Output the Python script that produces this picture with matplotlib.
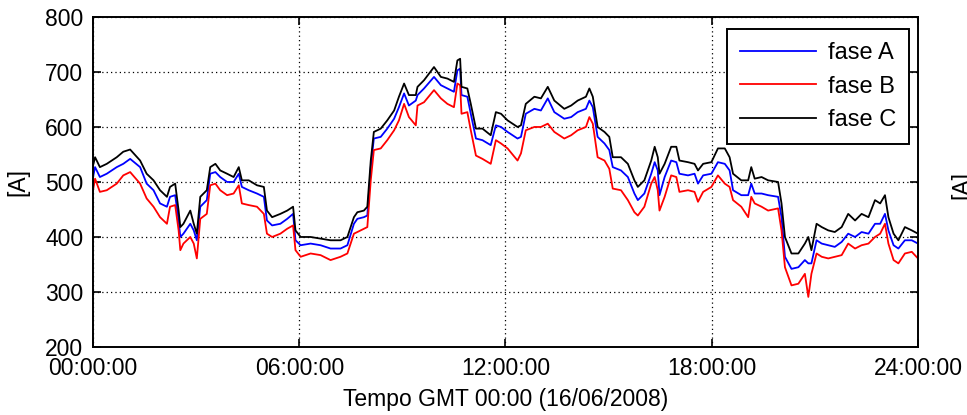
import numpy as np
import matplotlib
matplotlib.use('Agg')
import matplotlib.pyplot as plt

plt.rcParams['font.family'] = ['Liberation Sans', 'DejaVu Sans']

# hours since 00:00 GMT, 16/06/2008
hours = [0.0, 0.06, 0.2, 0.4, 0.69, 0.88, 1.08, 1.37, 1.56, 1.76, 1.95, 2.15, 2.24, 2.39,
         2.49, 2.54, 2.63, 2.83, 2.93, 3.02, 3.12, 3.31, 3.41, 3.56, 3.7, 3.9, 4.09, 4.24,
         4.33, 4.53, 4.77, 4.97, 5.06, 5.21, 5.45, 5.65, 5.82, 5.89, 6.04, 6.33, 6.62, 6.91,
         7.2, 7.4, 7.59, 7.69, 7.88, 7.98, 8.08, 8.17, 8.37, 8.56, 8.76, 8.9, 9.05, 9.19,
         9.39, 9.44, 9.63, 9.92, 10.12, 10.31, 10.5, 10.6, 10.68, 10.72, 10.89, 10.99, 11.14,
         11.33, 11.57, 11.72, 11.87, 12.06, 12.35, 12.45, 12.59, 12.84, 13.03, 13.23, 13.42,
         13.71, 13.91, 14.1, 14.34, 14.44, 14.54, 14.68, 14.88, 15.02, 15.12, 15.36, 15.56,
         15.75, 15.85, 16.04, 16.24, 16.34, 16.43, 16.48, 16.63, 16.82, 16.97, 17.06, 17.31,
         17.5, 17.6, 17.75, 17.99, 18.18, 18.38, 18.52, 18.62, 18.86, 19.06, 19.15, 19.25,
         19.45, 19.64, 19.93, 20.03, 20.13, 20.32, 20.52, 20.71, 20.81, 20.9, 21.05, 21.2,
         21.39, 21.58, 21.78, 21.97, 22.17, 22.36, 22.56, 22.75, 22.9, 23.04, 23.14, 23.29,
         23.43, 23.62, 23.82, 24.0]

# corrente por fase [A]
fase_A = [509, 527, 509, 515, 527, 533, 542, 527, 497, 485, 461, 455, 473, 476,
          430, 400, 406, 424, 412, 394, 455, 467, 515, 518, 509, 500, 500, 515,
          491, 485, 479, 473, 430, 421, 424, 433, 442, 394, 385, 388, 385, 379,
          379, 385, 424, 433, 436, 439, 527, 579, 582, 597, 615, 636, 661, 639,
          648, 658, 670, 691, 676, 670, 664, 703, 706, 658, 655, 624, 579,
          576, 567, 603, 600, 591, 579, 582, 624, 633, 630, 652, 627,
          615, 618, 627, 633, 648, 636, 582, 570, 558, 527, 521, 509,
          479, 467, 479, 515, 536, 521, 476, 509, 539, 536, 515, 512,
          515, 497, 512, 515, 536, 533, 521, 485, 476, 476, 497, 479,
          479, 476, 473, 436, 364, 342, 345, 358, 352, 352, 394, 388,
          385, 382, 391, 406, 400, 409, 406, 424, 424, 442, 412, 385,
          379, 394, 394, 388]

fase_B = [485, 506, 482, 485, 497, 512, 518, 497, 470, 455, 436, 424, 455, 458,
          412, 376, 388, 400, 388, 361, 433, 442, 494, 497, 485, 476, 479, 494,
          461, 458, 455, 442, 406, 400, 406, 415, 421, 376, 364, 370, 367, 358,
          364, 370, 406, 409, 415, 418, 503, 558, 561, 576, 594, 612, 642, 618,
          603, 639, 645, 667, 652, 642, 636, 679, 676, 624, 627, 594, 548,
          542, 533, 576, 570, 561, 539, 552, 594, 600, 600, 606, 591,
          579, 585, 594, 600, 618, 606, 545, 539, 524, 488, 485, 467,
          445, 439, 455, 497, 509, 485, 448, 473, 512, 509, 482, 485,
          482, 464, 482, 491, 512, 497, 491, 467, 455, 436, 473, 461,
          455, 448, 452, 412, 345, 312, 315, 333, 291, 333, 370, 364,
          361, 364, 367, 388, 379, 385, 388, 400, 406, 424, 388, 358,
          352, 370, 373, 361]

fase_C = [530, 545, 527, 533, 545, 555, 559, 539, 515, 503, 485, 473, 491, 497,
          448, 418, 424, 448, 424, 406, 473, 485, 527, 533, 521, 515, 509, 527,
          503, 503, 494, 491, 448, 436, 442, 448, 455, 412, 400, 400, 397, 394,
          394, 400, 436, 445, 448, 455, 539, 591, 597, 612, 630, 655, 679, 658,
          658, 673, 685, 709, 691, 688, 682, 721, 724, 673, 670, 642, 597,
          597, 585, 627, 624, 612, 600, 603, 642, 655, 652, 673, 648,
          633, 639, 648, 655, 670, 655, 600, 591, 582, 545, 545, 533,
          503, 491, 503, 539, 564, 545, 515, 533, 564, 564, 539, 536,
          533, 521, 533, 536, 561, 561, 545, 515, 503, 503, 527, 506,
          509, 503, 500, 461, 400, 370, 370, 388, 400, 376, 424, 418,
          412, 409, 418, 442, 430, 442, 436, 467, 461, 476, 436, 406,
          394, 418, 412, 406]

x_ticks = [0, 6, 12, 18, 24]
x_labels = ['00:00:00', '06:00:00', '12:00:00', '18:00:00', '24:00:00']
y_ticks = [200, 300, 400, 500, 600, 700, 800]

fs = 16.5

fig = plt.figure(figsize=[9.67, 4.15], dpi=100)
ax = fig.add_axes([0.0962, 0.1639, 0.8531, 0.7952])

ax.plot(hours, fase_A, color=(0, 0, 1), linewidth=1.3, label='fase A')
ax.plot(hours, fase_B, color=(1, 0, 0), linewidth=1.3, label='fase B')
ax.plot(hours, fase_C, color='k', linewidth=1.3, label='fase C')

ax.set_xlim(0, 24)
ax.set_ylim(200, 800)
ax.set_xticks(x_ticks)
ax.set_xticklabels(x_labels)
ax.set_yticks(y_ticks)
ax.tick_params(direction='in', length=6, width=1.2, top=True, right=True,
               labelsize=fs, pad=7)
ax.grid(True, color='k', linestyle=(0, (1, 2.5)), linewidth=0.9)
for s in ax.spines.values():
    s.set_linewidth(1.4)

ax.set_xlabel('Tempo GMT 00:00 (16/06/2008)', fontsize=fs, labelpad=6)
ax.set_ylabel('[A]', fontsize=fs, labelpad=11)

leg = ax.legend(loc='upper right', bbox_to_anchor=(0.989, 0.964), borderaxespad=0,
                fontsize=fs + 0.5, fancybox=False, framealpha=1, edgecolor='k',
                handlelength=3.2, handletextpad=0.5, labelspacing=0.5,
                borderpad=0.55)
leg.get_frame().set_linewidth(1.4)

# eixo do painel seguinte, cortado na borda da figura
fig.text(0.995, 0.554, '[A]', rotation=90, fontsize=fs, ha='center', va='center')

plt.savefig('out.png', dpi=100)
